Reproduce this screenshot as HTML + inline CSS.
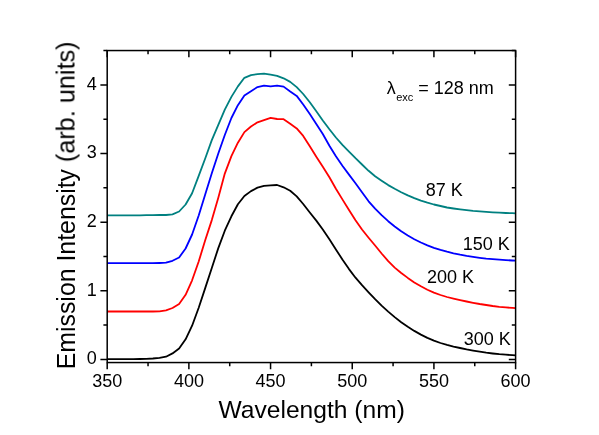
<!DOCTYPE html>
<html><head><meta charset="utf-8"><title>Emission spectra</title>
<style>html,body{margin:0;padding:0;background:#fff;}body{width:599px;height:435px;overflow:hidden;font-family:"Liberation Sans",sans-serif;}svg{display:block;will-change:transform;}</style>
</head><body>
<svg width="599" height="435" viewBox="0 0 599 435">
<rect width="599" height="435" fill="#fff"/>
<g fill="none" stroke-width="1.8" stroke-linejoin="round">
<polyline stroke="#008080" points="107.2,215.3 113.7,215.3 120.3,215.3 126.8,215.3 133.3,215.3 139.9,215.3 146.4,215.2 152.9,215.2 159.5,215.0 166.0,215.0 172.5,214.3 179.1,211.5 185.6,204.5 192.1,193.2 198.7,175.9 205.2,158.5 211.8,140.1 218.3,124.8 224.8,109.7 231.4,96.9 237.9,86.4 244.4,77.8 251.0,75.1 257.5,74.2 264.0,73.6 270.6,74.7 277.1,75.9 283.6,78.3 290.2,81.9 296.7,87.1 303.2,94.0 309.8,102.2 316.3,111.2 322.8,120.5 329.4,129.3 335.9,137.5 342.4,144.8 349.0,151.6 355.5,158.2 362.0,164.5 368.6,170.8 375.1,176.2 381.6,180.7 388.2,185.1 394.7,188.8 401.2,192.3 407.8,195.4 414.3,198.2 420.9,200.7 427.4,202.7 433.9,204.5 440.5,206.0 447.0,207.5 453.5,208.5 460.1,209.4 466.6,210.2 473.1,210.9 479.7,211.4 486.2,211.9 492.7,212.3 499.3,212.7 505.8,213.0 512.3,213.2 515.6,213.3"/>
<polyline stroke="#0000ff" points="107.2,263.2 113.7,263.2 120.3,263.2 126.8,263.2 133.3,263.2 139.9,263.2 146.4,263.2 152.9,263.2 159.5,263.0 166.0,262.7 172.5,260.8 179.1,257.5 185.6,248.5 192.1,234.5 198.7,215.5 205.2,194.4 211.8,173.3 218.3,153.5 224.8,135.0 231.4,118.0 237.9,105.2 244.4,95.6 251.0,91.2 257.5,87.1 264.0,85.6 270.6,86.4 277.1,85.7 283.6,86.6 290.2,91.5 296.7,95.9 303.2,104.5 309.8,114.1 316.3,123.9 322.8,134.0 329.4,145.7 335.9,156.3 342.4,165.7 349.0,174.6 355.5,183.3 362.0,192.3 368.6,201.3 375.1,208.7 381.6,215.2 388.2,221.2 394.7,226.5 401.2,231.3 407.8,235.5 414.3,239.2 420.9,242.5 427.4,245.3 433.9,247.8 440.5,249.9 447.0,251.7 453.5,253.3 460.1,254.7 466.6,255.9 473.1,256.9 479.7,257.8 486.2,258.6 492.7,259.2 499.3,259.7 505.8,260.1 512.3,260.5 515.6,260.7"/>
<polyline stroke="#ff0000" points="107.2,311.5 113.7,311.5 120.3,311.5 126.8,311.5 133.3,311.5 139.9,311.5 146.4,311.5 152.9,311.5 159.5,311.3 166.0,310.3 172.5,308.0 179.1,304.0 185.6,294.8 192.1,280.3 198.7,261.5 205.2,240.3 211.8,220.1 218.3,197.8 224.8,173.6 231.4,156.1 237.9,142.7 244.4,132.1 251.0,126.5 257.5,122.3 264.0,120.1 270.6,117.8 277.1,119.0 283.6,119.2 290.2,123.7 296.7,128.4 303.2,135.9 309.8,146.2 316.3,156.8 322.8,166.7 329.4,177.2 335.9,188.7 342.4,199.4 349.0,209.9 355.5,220.2 362.0,229.5 368.6,237.7 375.1,245.5 381.6,253.5 388.2,261.2 394.7,267.6 401.2,273.0 407.8,277.9 414.3,282.4 420.9,286.3 427.4,289.7 433.9,292.6 440.5,295.0 447.0,297.0 453.5,298.6 460.1,300.1 466.6,301.5 473.1,302.8 479.7,304.0 486.2,305.0 492.7,306.0 499.3,306.8 505.8,307.4 512.3,307.9 515.6,308.1"/>
<polyline stroke="#000000" points="107.2,359.2 113.7,359.2 120.3,359.2 126.8,359.1 133.3,359.1 139.9,359.0 146.4,358.9 152.9,358.5 159.5,357.8 166.0,356.7 172.5,353.4 179.1,348.6 185.6,339.3 192.1,325.7 198.7,307.7 205.2,288.1 211.8,268.0 218.3,248.1 224.8,230.7 231.4,216.3 237.9,204.2 244.4,196.0 251.0,191.1 257.5,187.6 264.0,185.9 270.6,185.4 277.1,185.0 283.6,187.3 290.2,190.8 296.7,196.4 303.2,204.0 309.8,212.5 316.3,220.6 322.8,229.5 329.4,239.3 335.9,249.4 342.4,259.5 349.0,269.1 355.5,277.7 362.0,285.2 368.6,292.4 375.1,299.2 381.6,305.6 388.2,311.6 394.7,317.1 401.2,322.2 407.8,326.8 414.3,330.9 420.9,334.6 427.4,337.9 433.9,340.6 440.5,343.0 447.0,344.9 453.5,346.6 460.1,348.0 466.6,349.4 473.1,350.6 479.7,351.7 486.2,352.7 492.7,353.5 499.3,354.2 505.8,354.7 512.3,355.2 515.6,355.4"/>
</g>
<g stroke="#000" stroke-width="1.5" fill="none">
<rect x="107.2" y="50.55" width="408.40" height="312.00"/>
<path stroke-width="1.5" d="M107.20,362.55v6.8M107.20,50.55v6.8M148.04,362.55v3.8M148.04,50.55v3.8M188.88,362.55v6.8M188.88,50.55v6.8M229.72,362.55v3.8M229.72,50.55v3.8M270.56,362.55v6.8M270.56,50.55v6.8M311.40,362.55v3.8M311.40,50.55v3.8M352.24,362.55v6.8M352.24,50.55v6.8M393.08,362.55v3.8M393.08,50.55v3.8M433.92,362.55v6.8M433.92,50.55v6.8M474.76,362.55v3.8M474.76,50.55v3.8M515.60,362.55v6.8M515.60,50.55v6.8M107.2,359.40h-6.8M515.6,359.40h-6.8M107.2,325.09h-3.8M515.6,325.09h-3.8M107.2,290.77h-6.8M515.6,290.77h-6.8M107.2,256.46h-3.8M515.6,256.46h-3.8M107.2,222.15h-6.8M515.6,222.15h-6.8M107.2,187.84h-3.8M515.6,187.84h-3.8M107.2,153.52h-6.8M515.6,153.52h-6.8M107.2,119.21h-3.8M515.6,119.21h-3.8M107.2,84.90h-6.8M515.6,84.90h-6.8M107.2,50.59h-3.8M515.6,50.59h-3.8"/>
</g>
<g font-family="Liberation Sans, sans-serif" fill="#000" style="filter:grayscale(1)">
<text x="107.2" y="387.2" font-size="18" text-anchor="middle">350</text>
<text x="188.9" y="387.2" font-size="18" text-anchor="middle">400</text>
<text x="270.6" y="387.2" font-size="18" text-anchor="middle">450</text>
<text x="352.2" y="387.2" font-size="18" text-anchor="middle">500</text>
<text x="433.9" y="387.2" font-size="18" text-anchor="middle">550</text>
<text x="515.6" y="387.2" font-size="18" text-anchor="middle">600</text>
<text x="96.8" y="364.3" font-size="18" text-anchor="end">0</text>
<text x="96.8" y="295.7" font-size="18" text-anchor="end">1</text>
<text x="96.8" y="227.0" font-size="18" text-anchor="end">2</text>
<text x="96.8" y="158.4" font-size="18" text-anchor="end">3</text>
<text x="96.8" y="89.8" font-size="18" text-anchor="end">4</text>
<text x="218.5" y="417.5" font-size="24.6">Wavelength (nm)</text>
<text transform="translate(74.5,369.3) rotate(-90)" font-size="24.86">Emission Intensity</text>
<text transform="translate(74.5,162.2) rotate(-90)" font-size="25.25">(arb. units)</text>
<text x="386.8" y="94" font-size="18">λ</text>
<text x="396.2" y="101" font-size="11">exc</text>
<text x="418.2" y="93.7" font-size="18">= 128 nm</text>
<text x="425.8" y="195.8" font-size="18">87 K</text>
<text x="462.7" y="249.8" font-size="18">150 K</text>
<text x="427" y="283.3" font-size="18">200 K</text>
<text x="463.8" y="345.0" font-size="18">300 K</text>
</g>
</svg>
</body></html>
